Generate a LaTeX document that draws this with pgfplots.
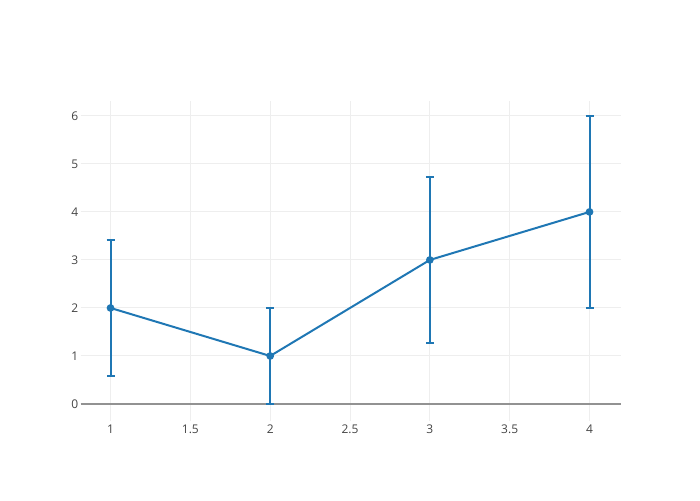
\documentclass[border=0pt]{standalone}
\usepackage{pgfplots}
\pgfplotsset{compat=1.18}
\usepackage{fontspec}
\setmainfont{Open Sans}
\definecolor{trace}{HTML}{1F77B4}
\definecolor{gridc}{HTML}{EEEEEE}
\definecolor{txt}{HTML}{444444}
\definecolor{zeroc}{HTML}{929292}
\begin{document}
\begin{tikzpicture}[x=1pt,y=1pt]
\path[use as bounding box] (0,0) rectangle (700,500);
\begin{axis}[
  at={(80.5pt,79pt)}, anchor=south west,
  scale only axis, width=540pt, height=320pt,
  xmin=0.812, xmax=4.194,
  ymin=-0.354, ymax=6.31,
  xtick={1,1.5,2,2.5,3,3.5,4},
  ytick={1,2,3,4,5,6},
  extra y ticks={0},
  extra y tick style={major grid style={color=zeroc, line width=1.8pt}},
  grid=major,
  major grid style={color=gridc, line width=1pt},
  axis line style={draw=none},
  tick style={draw=none},
  /pgf/number format/assume math mode=true,
  ticklabel style={font=\fontsize{12}{14}\selectfont, text=txt, inner sep=0pt},
  xticklabel style={anchor=north, yshift=-4pt},
  yticklabel style={anchor=east, xshift=-2pt},
  clip=false,
]
\addplot[color=trace, line width=2pt, mark=*, mark size=2.8pt,
  mark options={fill=trace, draw=none},
  error bars/.cd, y dir=both, y explicit,
  error bar style={line width=2pt, color=trace},
  error mark options={rotate=90, mark size=4pt, line width=2pt, color=trace}]
  coordinates {
  (1,2) +- (0,1.414)
  (2,1) +- (0,1)
  (3,3) +- (0,1.732)
  (4,4) +- (0,2)
};
\end{axis}
\end{tikzpicture}
\end{document}
